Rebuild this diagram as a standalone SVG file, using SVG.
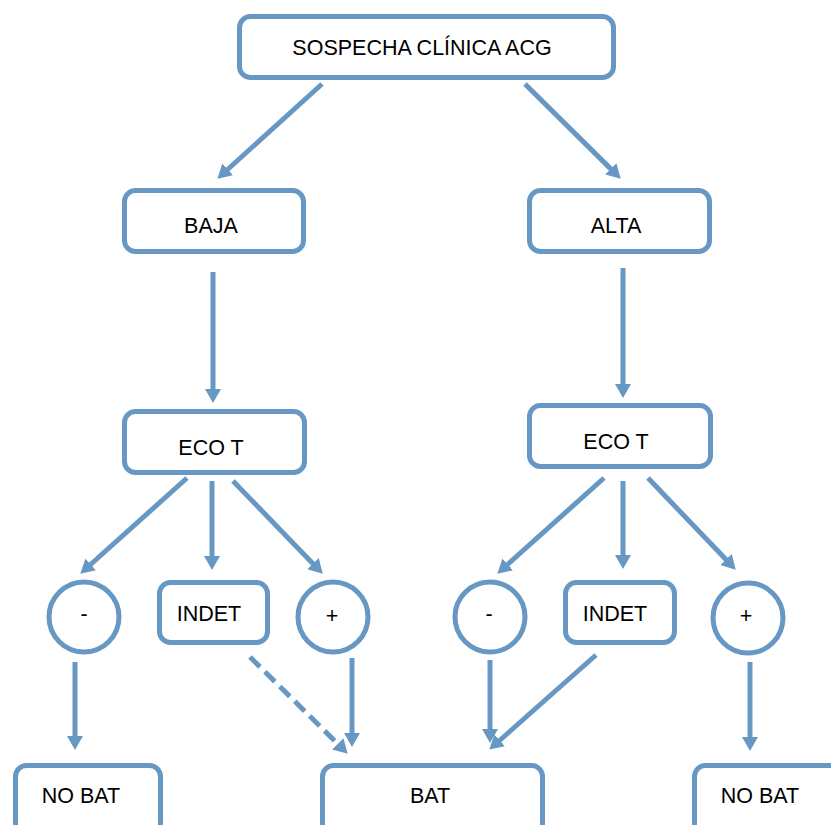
<svg xmlns="http://www.w3.org/2000/svg" width="831" height="825" viewBox="0 0 831 825">
<style>
.n{fill:#fff;stroke:#6798c3;stroke-width:5}
.c{stroke:#6798c3;stroke-width:5;fill:none}
.d{stroke-dasharray:14 7}
text{font-family:"Liberation Sans",Arial,sans-serif;font-size:21.5px;fill:#000;text-anchor:middle}
</style>
<defs>
<marker id="ah" viewBox="0 -8 14 16" markerWidth="14" markerHeight="16" refX="1" refY="0" orient="auto" markerUnits="userSpaceOnUse">
<path d="M0,-8 L14,0 L0,8 z" fill="#6798c3"/>
</marker>
</defs>
<rect width="831" height="825" fill="#fff"/>
<g id="connectors" marker-end="url(#ah)">
<line class="c" x1="322" y1="84" x2="227" y2="170"/>
<line class="c" x1="525" y1="84" x2="611.5" y2="169.6"/>
<line class="c" x1="213" y1="272" x2="213" y2="390"/>
<line class="c" x1="623" y1="268" x2="623" y2="385"/>
<line class="c" x1="187" y1="478" x2="90" y2="565"/>
<line class="c" x1="212" y1="481" x2="212" y2="557"/>
<line class="c" x1="233" y1="481" x2="313.7" y2="564.4"/>
<line class="c" x1="75" y1="662" x2="75" y2="737"/>
<line class="c d" x1="250" y1="657" x2="338.5" y2="744.6"/>
<line class="c" x1="352" y1="658" x2="352" y2="734"/>
<line class="c" x1="604" y1="478" x2="507" y2="565"/>
<line class="c" x1="623" y1="481" x2="623" y2="556"/>
<line class="c" x1="648" y1="478" x2="726.7" y2="560.3"/>
<line class="c" x1="490" y1="660" x2="490" y2="730"/>
<line class="c" x1="596" y1="655" x2="499" y2="741"/>
<line class="c" x1="750" y1="662" x2="750" y2="738"/>
</g>
<g id="top"><rect class="n" x="239.5" y="16.5" width="374" height="61" rx="11"/><text x="422" y="55">SOSPECHA CLÍNICA ACG</text></g>
<g id="baja"><rect class="n" x="124.5" y="190.5" width="179" height="61" rx="11"/><text x="211" y="233">BAJA</text></g>
<g id="alta"><rect class="n" x="529.5" y="190.5" width="180" height="61" rx="11"/><text x="616" y="233">ALTA</text></g>
<g id="eco-left"><rect class="n" x="124.5" y="411.5" width="180" height="61" rx="11"/><text x="211" y="455">ECO T</text></g>
<g id="eco-right"><rect class="n" x="529.5" y="405.5" width="181" height="61" rx="11"/><text x="616" y="449">ECO T</text></g>
<g id="neg-left"><circle class="n" cx="84" cy="617" r="35"/><text x="84" y="621">-</text></g>
<g id="indet-left"><rect class="n" x="159.5" y="582.5" width="108" height="60" rx="11"/><text x="209" y="621">INDET</text></g>
<g id="pos-left"><circle class="n" cx="333" cy="617" r="35"/><text x="332" y="623">+</text></g>
<g id="neg-right"><circle class="n" cx="490" cy="617" r="35"/><text x="489" y="621">-</text></g>
<g id="indet-right"><rect class="n" x="565.5" y="582.5" width="109" height="60" rx="11"/><text x="615" y="621">INDET</text></g>
<g id="pos-right"><circle class="n" cx="748" cy="618" r="35"/><text x="746" y="623">+</text></g>
<g id="nobat-left"><rect class="n" x="15.5" y="765.5" width="145" height="80" rx="11"/><text x="81" y="803">NO BAT</text></g>
<g id="bat"><rect class="n" x="322.5" y="765.5" width="220" height="80" rx="11"/><text x="430" y="803">BAT</text></g>
<g id="nobat-right"><rect class="n" x="694.5" y="765.5" width="150" height="80" rx="11"/><text x="760" y="803">NO BAT</text></g>
</svg>
